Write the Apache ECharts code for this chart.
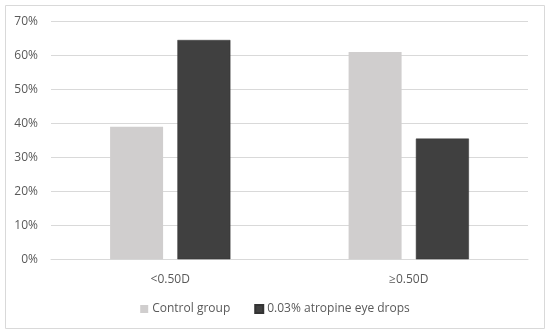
<!DOCTYPE html>
<html><head><meta charset="utf-8">
<script src="https://cdn.jsdelivr.net/npm/echarts@6/dist/echarts.min.js"></script>
<style>html,body{margin:0;padding:0;background:#fff}#c{width:550px;height:334px}</style>
</head><body><div id="c"></div>
<script>
var categories = ['<0.50D', '≥0.50D'];
var controlGroup = [39, 61];
var atropine = [64.5, 35.5];
var seriesNames = ['Control group', '0.03% atropine eye drops'];

var chart = echarts.init(document.getElementById('c'));
var font = 'Open Sans';
chart.setOption({
  animation: false,
  textStyle: {fontFamily: font},
  graphic: [{type: 'rect', shape: {x: 5.5, y: 5.5, width: 539, height: 323},
    style: {fill: 'none', stroke: '#d9d9d9', lineWidth: 1}, silent: true}],
  grid: {left: 51, right: 22, top: 21.3, bottom: 74.7, containLabel: false},
  legend: {
    bottom: 14, left: 'center', itemWidth: 8, itemHeight: 8, itemGap: 24,
    icon: 'rect',
    textStyle: {color: '#595959', fontSize: 12, fontFamily: font, padding: [0, 0, 0, -1]},
    data: seriesNames
  },
  xAxis: {
    type: 'category', data: categories,
    axisLine: {show: true, lineStyle: {color: '#d9d9d9'}},
    axisTick: {show: false},
    axisLabel: {color: '#595959', fontSize: 12, margin: 14, fontFamily: font}
  },
  yAxis: {
    type: 'value', min: 0, max: 70, interval: 10,
    axisLine: {show: false}, axisTick: {show: false},
    splitLine: {lineStyle: {color: '#d9d9d9'}},
    axisLabel: {color: '#595959', fontSize: 12, margin: 13, formatter: '{value}%', fontFamily: font}
  },
  series: [
    {name: seriesNames[0], type: 'bar', data: controlGroup, barWidth: 53, barGap: '27%',
     itemStyle: {color: '#d0cece'}},
    {name: seriesNames[1], type: 'bar', data: atropine, barWidth: 53,
     itemStyle: {color: '#404040', borderColor: '#333', borderWidth: 0.5}}
  ]
});
</script></body></html>
